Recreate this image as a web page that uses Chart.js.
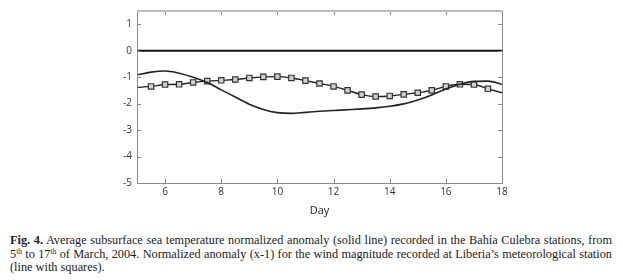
<!DOCTYPE html>
<html>
<head>
<meta charset="utf-8">
<script src="https://cdn.jsdelivr.net/npm/chart.js@4"></script>
<style>
  html, body { margin: 0; padding: 0; background: #fff; width: 623px; height: 280px; overflow: hidden; }
  #wrap { position: absolute; left: 0; top: 0; width: 623px; height: 222px; }
  #caption {
    position: absolute; left: 10px; top: 234px; width: 602px;
    font-family: "Liberation Serif", "Times New Roman", serif; font-size: 12.3px;
    line-height: 13.5px; color: #222; text-align: justify;
  }
  #caption sup { font-size: 7.5px; vertical-align: 4px; line-height: 0; }
</style>
</head>
<body>
<div id="wrap"><canvas id="c" width="623" height="222"></canvas></div>
<div id="caption"><b>Fig. 4.</b> Average subsurface sea temperature normalized anomaly (solid line) recorded in the Bahía Culebra stations, from 5<sup>th</sup> to 17<sup>th</sup> of March, 2004. Normalized anomaly (x-1) for the wind magnitude recorded at Liberia’s meteorological station (line with squares).</div>
<script>
const tempDays = [5, 5.5, 6, 6.5, 7, 7.5, 8, 8.5, 9, 9.5, 10, 10.5, 11, 11.5, 12, 12.5, 13, 13.5, 14, 14.5, 15, 15.5, 16, 16.5, 17, 17.5, 18];
const tempAnomaly = [-0.92, -0.81, -0.77, -0.85, -1.0, -1.2, -1.48, -1.75, -2.02, -2.22, -2.34, -2.37, -2.33, -2.29, -2.26, -2.23, -2.2, -2.16, -2.1, -2.01, -1.86, -1.67, -1.45, -1.27, -1.16, -1.15, -1.27];
const windDays = [5, 5.5, 6, 6.5, 7, 7.5, 8, 8.5, 9, 9.5, 10, 10.5, 11, 11.5, 12, 12.5, 13, 13.5, 14, 14.5, 15, 15.5, 16, 16.5, 17, 17.5, 18];
const windAnomaly = [-1.39, -1.35, -1.28, -1.27, -1.2, -1.15, -1.12, -1.09, -1.03, -0.99, -0.98, -1.03, -1.13, -1.24, -1.35, -1.5, -1.66, -1.73, -1.71, -1.65, -1.59, -1.5, -1.35, -1.27, -1.28, -1.44, -1.59];
const markerDays = [5.5, 6, 6.5, 7, 7.5, 8, 8.5, 9, 9.5, 10, 10.5, 11, 11.5, 12, 12.5, 13, 13.5, 14, 14.5, 15, 15.5, 16, 16.5, 17, 17.5];
const zeroDays = [5, 18];
const zeroValues = [0, 0];
const xTicks = [6, 8, 10, 12, 14, 16, 18];
const yTicks = [-5, -4, -3, -2, -1, 0, 1];
const xTitle = 'Day';

const pts = (xs, ys) => xs.map((x, i) => ({ x, y: ys[i] }));

const insideTicks = {
  id: 'insideTicks',
  afterDatasetsDraw(chart) {
    const { ctx, chartArea: a, scales } = chart;
    ctx.save();
    ctx.strokeStyle = '#8a8a8a';
    ctx.lineWidth = 1;
    ctx.beginPath();
    xTicks.forEach(v => {
      const p = Math.round(scales.x.getPixelForValue(v)) + 0.5;
      ctx.moveTo(p, a.bottom); ctx.lineTo(p, a.bottom - 4);
      ctx.moveTo(p, a.top); ctx.lineTo(p, a.top + 4);
    });
    yTicks.forEach(v => {
      const p = Math.round(scales.y.getPixelForValue(v)) + 0.5;
      ctx.moveTo(a.left, p); ctx.lineTo(a.left + 4, p);
      ctx.moveTo(a.right, p); ctx.lineTo(a.right - 4, p);
    });
    ctx.stroke();
    ctx.strokeStyle = '#8a8a8a';
    ctx.strokeRect(Math.round(a.left) + 0.5, Math.round(a.top) + 0.5, Math.round(a.right - a.left), Math.round(a.bottom - a.top));
    ctx.strokeStyle = '#bbbbbb';
    ctx.lineWidth = 2;
    ctx.beginPath();
    ctx.moveTo(a.left, Math.round(a.top)); ctx.lineTo(a.right, Math.round(a.top));
    ctx.stroke();
    ctx.restore();
  }
};

new Chart(document.getElementById('c'), {
  type: 'line',
  data: {
    datasets: [
      {
        label: 'zero',
        data: pts(zeroDays, zeroValues),
        borderColor: '#111', borderWidth: 2, pointRadius: 0, tension: 0
      },
      {
        label: 'Temperature anomaly',
        data: pts(tempDays, tempAnomaly),
        borderColor: '#222', borderWidth: 1.6, pointRadius: 0, tension: 0.4,
        cubicInterpolationMode: 'monotone'
      },
      {
        label: 'Wind anomaly (x-1)',
        data: pts(windDays, windAnomaly),
        borderColor: '#222', borderWidth: 1.4, tension: 0.4,
        cubicInterpolationMode: 'monotone',
        pointStyle: 'rect',
        pointRadius: ctx => markerDays.includes(ctx.raw && ctx.raw.x) ? 3.8 : 0,
        pointBorderColor: '#333', pointBorderWidth: 1.2,
        pointBackgroundColor: '#d0d0d0'
      }
    ]
  },
  options: {
    responsive: false,
    animation: false,
    devicePixelRatio: 1,
    layout: { padding: { left: 0, right: 121, top: 5, bottom: 0 } },
    plugins: { legend: { display: false }, tooltip: { enabled: false } },
    scales: {
      x: {
        type: 'linear', min: 5, max: 18,
        afterBuildTicks: s => { s.ticks = xTicks.map(v => ({ value: v })); },
        afterFit: s => { s.height = 39; },
        grid: { display: false, drawTicks: false },
        border: { display: false },
        ticks: { color: '#333', padding: 3, font: { family: 'Open Sans', size: 10 }, maxRotation: 0 },
        title: { display: true, text: xTitle, color: '#222', font: { family: 'Open Sans', size: 11 }, padding: { top: 2, bottom: 5 } }
      },
      y: {
        type: 'linear', min: -5, max: 1.5,
        afterBuildTicks: s => { s.ticks = yTicks.map(v => ({ value: v })); },
        afterFit: s => { s.width = 137; },
        grid: { display: false, drawTicks: false },
        border: { display: false },
        ticks: { color: '#333', padding: 5, font: { family: 'Open Sans', size: 10 } }
      }
    }
  },
  plugins: [insideTicks]
});
</script>
</body>
</html>
